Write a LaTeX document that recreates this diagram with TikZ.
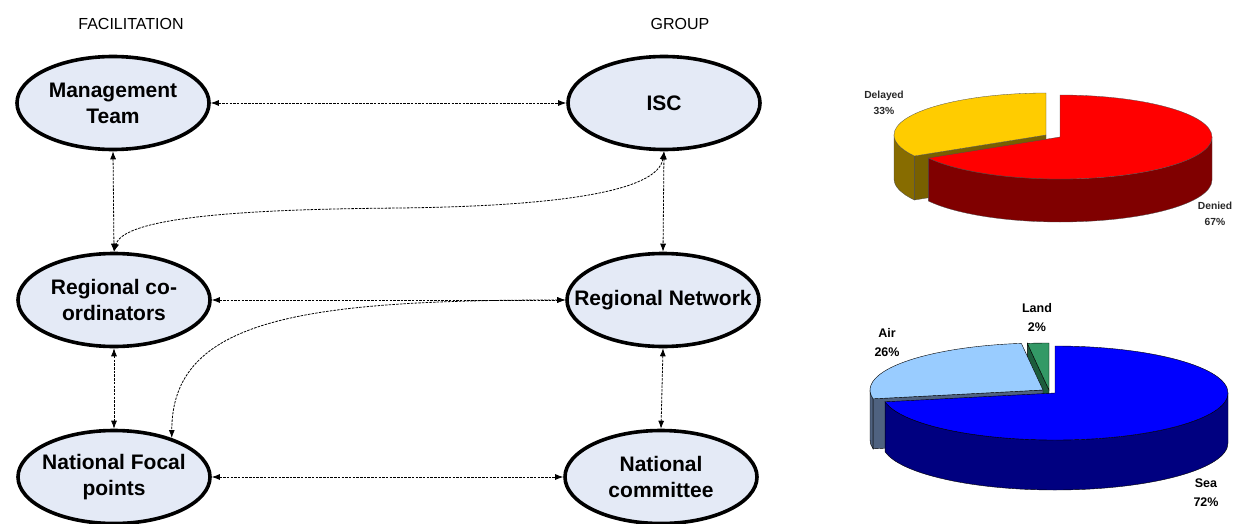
\documentclass[tikz,border=0pt]{standalone}
\usepackage{fontspec}
\setmainfont{Liberation Sans}
\usetikzlibrary{shapes.geometric,arrows.meta}
\definecolor{ovalfill}{RGB}{228,234,246}
\definecolor{ytopc}{RGB}{255,204,0}
\definecolor{ysidec}{RGB}{135,108,0}
\definecolor{ycutc}{RGB}{120,96,0}
\definecolor{rtopc}{RGB}{255,0,0}
\definecolor{rsidec}{RGB}{128,0,0}
\definecolor{stopc}{RGB}{0,0,255}
\definecolor{ssidec}{RGB}{0,0,128}
\definecolor{atopc}{RGB}{153,204,255}
\definecolor{asidec}{RGB}{79,98,128}
\definecolor{ltopc}{RGB}{51,153,102}
\definecolor{lsidec}{RGB}{28,92,60}
\definecolor{lbl1}{RGB}{40,40,40}
\begin{document}
\begin{tikzpicture}[x=1pt,y=-1pt,
  oval/.style={ellipse,draw=black,line width=3.6pt,fill=ovalfill,minimum width=192pt,minimum height=93pt,inner sep=0pt},
  ovaltext/.style={align=center,font=\fontsize{21}{26}\selectfont\bfseries,inner sep=0pt},
  head/.style={font=\fontsize{16}{19}\selectfont,inner sep=0pt},
  link/.style={{Latex[length=8pt,width=6pt]}-{Latex[length=8pt,width=6pt]},line width=0.8pt,dash pattern=on 2.5pt off 1.2pt},
  pie1lbl/.style={align=center,font=\fontsize{10.3}{15.5}\selectfont\bfseries,text=lbl1,inner sep=0pt},
  pie2lbl/.style={align=center,font=\fontsize{12.5}{19}\selectfont\bfseries,inner sep=0pt},
  pe1/.style={draw=black!70,line width=0.3pt},
  pe2/.style={draw=black,line width=0.4pt}
]
\useasboundingbox (0,0) rectangle (1233,524);

% headers
\node[head] (hfac) at (131,24) {FACILITATION};
\node[head] (hgrp) at (680,24) {GROUP};

% ovals
\node[oval] (mt) at (113,103) {};
\node[oval] (isc) at (664,103) {};
\node[oval] (rc) at (114,300) {};
\node[oval] (rn) at (663,300) {};
\node[oval] (nfp) at (114,477) {};
\node[oval] (nc) at (661,477) {};

\node[ovaltext] (mtT) at (mt.center) {Management\\Team};
\node[ovaltext] (iscT) at (isc.center) {ISC};
\node[ovaltext] (rcT) at (rc.center) {Regional co-\\ordinators};
\node[ovaltext] (rnT) at (rn.center) {Regional Network};
\node[ovaltext] (nfpT) at (nfp.center) {National Focal\\points};
\node[ovaltext] (ncT) at (nc.center) {National\\committee};

% connectors
\coordinate (m1) at (400,208);
\draw[link] (mt.east) -- (isc.west);
\draw[link] (mt.south) -- (rc.north);
\draw[link] (isc.south) -- (rn.north);
\draw[link] (rc.east) -- (rn.west);
\draw[link] (rc.south) -- (nfp.north);
\draw[link] (rn.south) -- (nc.north);
\draw[link] (nfp.east) -- (nc.west);
\draw[link] (isc.south) .. controls +(-6,40) and +(160,-2) .. (m1) .. controls +(-100,1) and +(11,-40) .. (rc.north);
\draw[link] (rn.west) .. controls +(-266,0) and +(0,-118) .. (nfp.34);

% pie 1
\begin{scope}[shift={(1060,137)},yscale=-1]
  \begin{scope}[shift={(-14,2)}]
    \filldraw[pe1,fill=ysidec] (180:152 and 42) arc[start angle=180,end angle=210,x radius=152,y radius=42] -- ++(0,-44) arc[start angle=210,end angle=180,x radius=152,y radius=42] -- cycle;
    \filldraw[pe1,fill=ycutc] (0,0) -- (210:152 and 42) -- ++(0,-44) -- (0,-44) -- cycle;
    \filldraw[pe1,fill=ytopc] (0,0) -- (90:152 and 42) arc[start angle=90,end angle=210,x radius=152,y radius=42] -- cycle;
  \end{scope}
  \filldraw[pe1,fill=rsidec] (-150:152 and 42) arc[start angle=-150,end angle=0,x radius=152,y radius=42] -- ++(0,-43) arc[start angle=0,end angle=-150,x radius=152,y radius=42] -- cycle;
  \filldraw[pe1,fill=rtopc] (0,0) -- (90:152 and 42) arc[start angle=90,end angle=-150,x radius=152,y radius=42] -- cycle;
\end{scope}
\node[pie1lbl] (lDel) at (884,103) {Delayed\\33\%};
\node[pie1lbl] (lDen) at (1215,214) {Denied\\67\%};

% pie 2
\begin{scope}[shift={(1055,393)},yscale=-1]
  \begin{scope}[shift={(-6,3)}]
    \filldraw[pe2,fill=lsidec] (0,0) -- (97.2:173 and 47) -- ++(0,-50) -- (0,-50) -- cycle;
    \filldraw[pe2,fill=ltopc] (0,0) -- (90:173 and 47) arc[start angle=90,end angle=97.2,x radius=173,y radius=47] -- cycle;
  \end{scope}
  \begin{scope}[shift={(-12,3)}]
    \filldraw[pe2,fill=asidec] (180:173 and 47) arc[start angle=180,end angle=190.8,x radius=173,y radius=47] -- ++(0,-50) arc[start angle=190.8,end angle=180,x radius=173,y radius=47] -- cycle;
    \filldraw[pe2,fill=asidec] (0,0) -- (190.8:173 and 47) -- ++(0,-50) -- (0,-50) -- cycle;
    \filldraw[pe2,fill=atopc] (0,0) -- (97.2:173 and 47) arc[start angle=97.2,end angle=190.8,x radius=173,y radius=47] -- cycle;
  \end{scope}
  \filldraw[pe2,fill=ssidec] (-169.2:173 and 47) arc[start angle=-169.2,end angle=0,x radius=173,y radius=47] -- ++(0,-50) arc[start angle=0,end angle=-169.2,x radius=173,y radius=47] -- cycle;
  \filldraw[pe2,fill=stopc] (0,0) -- (90:173 and 47) arc[start angle=90,end angle=-169.2,x radius=173,y radius=47] -- cycle;
\end{scope}
\node[pie2lbl] (lLand) at (1037,318) {Land\\2\%};
\node[pie2lbl] (lAir) at (887,343) {Air\\26\%};
\node[pie2lbl] (lSea) at (1206,493) {Sea\\72\%};
\end{tikzpicture}
\end{document}
